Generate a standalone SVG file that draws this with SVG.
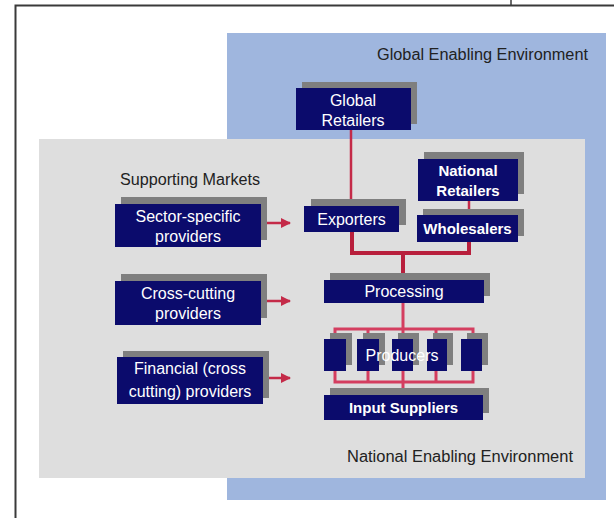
<svg xmlns="http://www.w3.org/2000/svg" width="614" height="522" viewBox="0 0 614 522">
<defs>
<style>
.box{fill:#0b0b6c}
.sh{fill:#7f7f7f}
.t{font-family:"Liberation Sans",Arial,sans-serif;font-size:16px;fill:#ffffff;text-anchor:middle}
.tb{font-family:"Liberation Sans",Arial,sans-serif;font-size:15px;font-weight:bold;fill:#ffffff;text-anchor:middle}
.lab{font-family:"Liberation Sans",Arial,sans-serif;font-size:16px;fill:#222222}
.c{fill:none;stroke:#c42a48;stroke-width:2.5}
.cb{fill:none;stroke:#b81f3c;stroke-width:4}
.cp{fill:none;stroke:#d43e60;stroke-width:3}
</style>
<marker id="ah" viewBox="0 0 10 10" refX="9" refY="5" markerWidth="4" markerHeight="4" orient="auto" markerUnits="strokeWidth">
<path d="M0,0 L10,5 L0,10 z" fill="#c42a48"/>
</marker>
</defs>
<rect width="614" height="522" fill="#ffffff"/>
<g id="frame">
<path d="M614,5.5 H15.5 V518" fill="none" stroke="#3a3a3a" stroke-width="2"/>
<path d="M511,0 V5" fill="none" stroke="#3a3a3a" stroke-width="1.5"/>
</g>
<g id="global-env">
<rect x="227" y="33" width="379" height="467" fill="#9fb6de"/>
<text class="lab" x="588" y="60" text-anchor="end" textLength="211" lengthAdjust="spacingAndGlyphs">Global Enabling Environment</text>
</g>
<g id="national-env">
<rect x="39" y="139" width="546" height="339" fill="#dedede"/>
<text class="lab" x="347" y="462" textLength="226" lengthAdjust="spacingAndGlyphs">National Enabling Environment</text>
</g>
<g id="supporting-markets">
<text class="lab" x="120" y="185" textLength="140" lengthAdjust="spacingAndGlyphs">Supporting Markets</text>
</g>
<g id="connectors">
<path class="c" d="M351,130 V206"/>
<path class="cb" d="M352,232 V253 H469 V242"/>
<path class="c" d="M469,201 V215"/>
<path class="cb" d="M403,253 V280"/>
<path class="cp" d="M403,303 V329"/>
<path class="cp" d="M335,340 V329 H473 V340 M368,329 V340 M403,329 V340 M436,329 V340"/>
<path class="cp" d="M335,370 V382 H473 V370 M368,370 V382 M403,370 V382 M436,370 V382"/>
<path class="cp" d="M403,382 V395"/>
<path class="c" d="M267,223 H290" marker-end="url(#ah)"/>
<path class="c" d="M267,301 H290" marker-end="url(#ah)"/>
<path class="c" d="M267,378 H290" marker-end="url(#ah)"/>
</g>
<g id="global-retailers">
<rect class="sh" x="302" y="82" width="115" height="42"/>
<rect class="box" x="296" y="88" width="115" height="42"/>
<text class="t" x="353" y="106">Global</text>
<text class="t" x="353" y="126">Retailers</text>
</g>
<g id="national-retailers">
<rect class="sh" x="424" y="152" width="100" height="42"/>
<rect class="box" x="418" y="159" width="100" height="42"/>
<text class="tb" x="468" y="176">National</text>
<text class="tb" x="468" y="196">Retailers</text>
</g>
<g id="exporters">
<rect class="sh" x="311" y="199" width="95" height="26"/>
<rect class="box" x="304" y="206" width="95" height="26"/>
<text class="t" x="351.5" y="225">Exporters</text>
</g>
<g id="wholesalers">
<rect class="sh" x="423" y="209" width="101" height="27"/>
<rect class="box" x="417" y="215" width="101" height="27"/>
<text class="tb" x="467.5" y="234">Wholesalers</text>
</g>
<g id="sector-specific">
<rect class="sh" x="121" y="197" width="146" height="43"/>
<rect class="box" x="115" y="204" width="146" height="43"/>
<text class="t" x="188" y="222">Sector-specific</text>
<text class="t" x="188" y="242">providers</text>
</g>
<g id="cross-cutting">
<rect class="sh" x="121" y="274" width="146" height="44"/>
<rect class="box" x="115" y="281" width="146" height="44"/>
<text class="t" x="188" y="299">Cross-cutting</text>
<text class="t" x="188" y="319">providers</text>
</g>
<g id="financial">
<rect class="sh" x="123" y="351" width="146" height="47"/>
<rect class="box" x="117" y="357" width="146" height="47"/>
<text class="t" x="190" y="374">Financial (cross</text>
<text class="t" x="190" y="397">cutting) providers</text>
</g>
<g id="processing">
<rect class="sh" x="330" y="273" width="160" height="23"/>
<rect class="box" x="324" y="280" width="160" height="23"/>
<text class="t" x="404" y="297">Processing</text>
</g>
<g id="producers">
<rect class="sh" x="330" y="333" width="22" height="32"/>
<rect class="sh" x="363" y="333" width="22" height="32"/>
<rect class="sh" x="398" y="333" width="21" height="32"/>
<rect class="sh" x="433" y="333" width="20" height="32"/>
<rect class="sh" x="467" y="333" width="21" height="32"/>
<rect class="box" x="324" y="339" width="22" height="32"/>
<rect class="box" x="357" y="339" width="22" height="32"/>
<rect class="box" x="392" y="339" width="21" height="32"/>
<rect class="box" x="427" y="339" width="20" height="32"/>
<rect class="box" x="461" y="339" width="21" height="32"/>
<text class="t" x="402" y="361">Producers</text>
</g>
<g id="input-suppliers">
<rect class="sh" x="330" y="388" width="159" height="25"/>
<rect class="box" x="324" y="395" width="159" height="25"/>
<text class="tb" x="403.5" y="413">Input Suppliers</text>
</g>
</svg>
